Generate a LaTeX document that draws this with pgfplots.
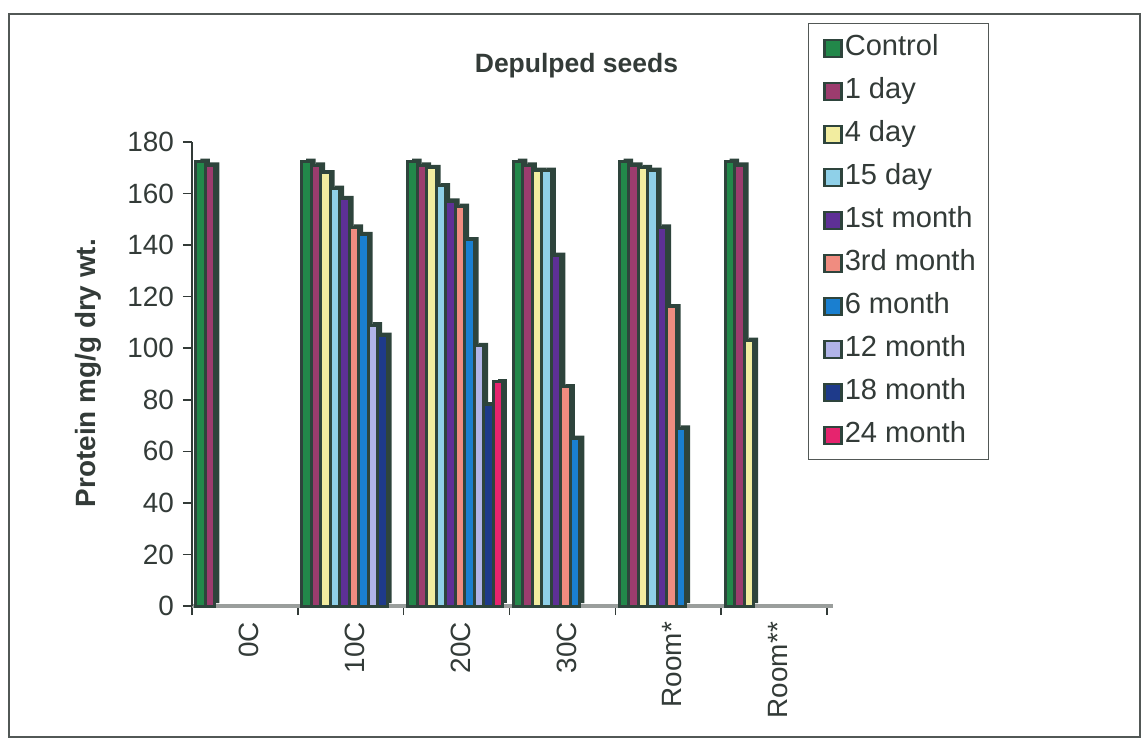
\documentclass[border=0pt]{standalone}
\usepackage{fontspec}
\setmainfont{Liberation Sans}
\usepackage{pgfplots}
\usepackage{pgfplotstable}
\pgfplotsset{compat=1.18}
\definecolor{dk}{HTML}{2E443C}
\definecolor{txt}{HTML}{333B38}
\definecolor{floor}{HTML}{9A9E9C}
\definecolor{cA}{HTML}{22884A}
\definecolor{cB}{HTML}{9C3C6E}
\definecolor{cC}{HTML}{F2EDA0}
\definecolor{cD}{HTML}{8FD0E8}
\definecolor{cE}{HTML}{5E3096}
\definecolor{cF}{HTML}{F08C80}
\definecolor{cG}{HTML}{1A7FD0}
\definecolor{cH}{HTML}{B0B4E8}
\definecolor{cI}{HTML}{1E3A8A}
\definecolor{cJ}{HTML}{E6246E}
\pgfplotstableread{
x   s0    s1  s2  s3  s4  s5  s6  s7  s8  s9
0   172.5 171 nan nan nan nan nan nan nan nan
1   172.5 171 168 162 158 147 144 109 105 nan
2   172.5 171 170 163 157 155 142 101 78  87
3   172.5 171 169 169 136 85  65  nan nan nan
4   172.5 171 170 169 147 116 69  nan nan nan
5   172.5 171 103 nan nan nan nan nan nan nan
}\data
\pgfplotsset{
  shadow/.style={ybar, bar width=4.75bp, bar shift=#1, fill=dk, draw=none, yshift=1.4bp, forget plot},
  front/.style 2 args={ybar, bar width=4.75bp, bar shift=#1, fill=#2, draw=dk, line width=1.5bp},
}
\begin{document}
\begin{tikzpicture}
\useasboundingbox (0,0) rectangle (570.5bp,370bp);
\draw[txt!85, line width=0.9bp] (4.5bp,1.5bp) rectangle (569.9bp,363bp);
\begin{axis}[
  at={(96bp,67bp)}, anchor=south west,
  scale only axis, width=317.5bp, height=232bp,
  xmin=-0.5, xmax=5.5, ymin=0, ymax=180,
  axis x line*=bottom, axis y line*=left,
  x axis line style={floor, line width=2.2bp, shorten >=-3bp},
  y axis line style={txt, line width=0.8bp},
  xtick={0,1,2,3,4,5},
  xticklabels={0C,10C,20C,30C,Room*,Room**},
  major x tick style={draw=none},
  minor xtick={-0.5,0.5,1.5,2.5,3.5,4.5,5.5},
  minor x tick style={txt, line width=0.8bp},
  minor tick length=4.5bp,
  ytick={0,20,...,180},
  y tick style={txt, line width=0.8bp},
  major tick length=4.5bp,
  tick align=outside,
  /pgf/number format/assume math mode=true,
  ticklabel style={font=\fontsize{14}{16}\selectfont, text=txt},
  xticklabel style={rotate=90, anchor=east, yshift=-2bp},
  yticklabel style={xshift=-1bp},
  ylabel={Protein mg/g dry wt.},
  ylabel style={at={(axis description cs:-0.164,0.502)}, anchor=center, font=\fontsize{14}{16}\selectfont\bfseries, text=txt},
  title={Depulped seeds},
  title style={at={(axis description cs:0.6055,1.125)}, anchor=base, font=\fontsize{13.3}{15}\selectfont\bfseries, text=txt},
  legend style={at={(axis description cs:0.970,1.256)}, anchor=north west, draw=txt!85, line width=0.6bp, fill=white,
    font=\fontsize{14.6}{16}\selectfont, text=txt, row sep=5.0bp, inner xsep=5.5bp, inner ysep=4bp,
    nodes={inner sep=1bp, text height=11bp, text depth=3.5bp}},
  legend cell align=left,
  every axis plot post/.append style={legend image code/.code={\path[draw=none,fill=none] (2bp,0bp) -- (13.5bp,0bp); \draw[##1, line width=1.2bp] (4.5bp,-4.25bp) rectangle (13bp,4.25bp);}},
  clip=false,
]
\addplot[shadow=-19.9bp] table[x=x,y=s0]{\data};
\addplot[shadow=-15.15bp] table[x=x,y=s1]{\data};
\addplot[shadow=-10.4bp] table[x=x,y=s2]{\data};
\addplot[shadow=-5.65bp] table[x=x,y=s3]{\data};
\addplot[shadow=-0.9bp] table[x=x,y=s4]{\data};
\addplot[shadow=3.85bp] table[x=x,y=s5]{\data};
\addplot[shadow=8.6bp] table[x=x,y=s6]{\data};
\addplot[shadow=13.35bp] table[x=x,y=s7]{\data};
\addplot[shadow=18.1bp] table[x=x,y=s8]{\data};
\addplot[shadow=22.85bp] table[x=x,y=s9]{\data};
\addplot[front={-22.1bp}{cA}] table[x=x,y=s0]{\data};
\addplot[front={-17.35bp}{cB}] table[x=x,y=s1]{\data};
\addplot[front={-12.6bp}{cC}] table[x=x,y=s2]{\data};
\addplot[front={-7.85bp}{cD}] table[x=x,y=s3]{\data};
\addplot[front={-3.1bp}{cE}] table[x=x,y=s4]{\data};
\addplot[front={1.65bp}{cF}] table[x=x,y=s5]{\data};
\addplot[front={6.4bp}{cG}] table[x=x,y=s6]{\data};
\addplot[front={11.15bp}{cH}] table[x=x,y=s7]{\data};
\addplot[front={15.9bp}{cI}] table[x=x,y=s8]{\data};
\addplot[front={20.65bp}{cJ}] table[x=x,y=s9]{\data};
\legend{Control,1 day,4 day,15 day,1st month,3rd month,6 month,12 month,18 month,24 month}
\end{axis}
\end{tikzpicture}
\end{document}
